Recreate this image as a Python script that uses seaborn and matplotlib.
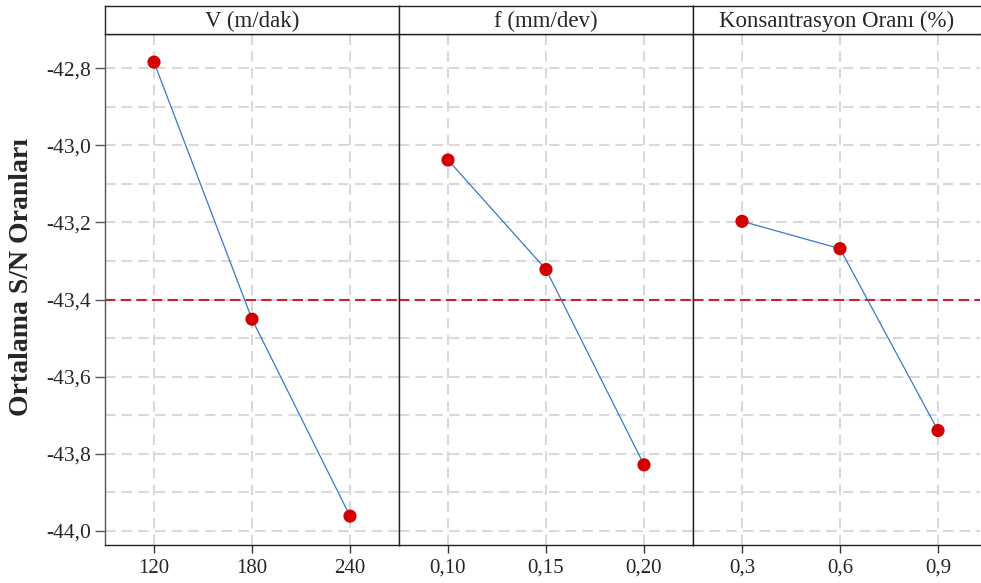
import matplotlib
matplotlib.use("Agg")
import matplotlib.pyplot as plt
import seaborn as sns
import pandas as pd
from matplotlib.ticker import FuncFormatter, FixedLocator

# Main effects of factor levels on mean S/N ratio
factors = ["V (m/dak)", "f (mm/dev)", "Konsantrasyon Oranı (%)"]
v_levels = ["120", "180", "240"]
f_levels = ["0,10", "0,15", "0,20"]
k_levels = ["0,3", "0,6", "0,9"]
v_sn = [-42.784, -43.451, -43.962]
f_sn = [-43.038, -43.322, -43.829]
k_sn = [-43.197, -43.268, -43.740]
grand_mean = -43.40
y_major = [-44.0, -43.8, -43.6, -43.4, -43.2, -43.0, -42.8]
y_minor = [-43.9, -43.7, -43.5, -43.3, -43.1, -42.9]

panels = [
    (factors[0], v_levels, v_sn),
    (factors[1], f_levels, f_sn),
    (factors[2], k_levels, k_sn),
]

sns.set_style("white")
plt.rcParams["font.family"] = ["Liberation Serif", "DejaVu Serif"]

W, H = 981, 583
fig = plt.figure(figsize=(W / 100, H / 100), dpi=100)

left_px = 105
panel_px = 294
top_px, bottom_px, strip_top_px = 34, 545, 6
ylim = (-44.037, -42.711)

line_color = "#3a78c9"
dot_color = "#d40000"
mean_color = "#cf1f2e"
grid_color = "#d9d9d9"

axes = []
for i, (name, levels, values) in enumerate(panels):
    x0 = left_px + i * panel_px
    x1 = min(x0 + panel_px, W - 1)
    ax = fig.add_axes([x0 / W, 1 - bottom_px / H, (x1 - x0) / W,
                       (bottom_px - top_px) / H])
    axes.append(ax)
    df = pd.DataFrame({"pos": list(range(len(levels))), "sn": values})

    ax.axhline(grand_mean, color=mean_color, lw=1.5, ls=(0, (5, 2.5)), zorder=2)
    sns.lineplot(data=df, x="pos", y="sn", ax=ax, color=line_color, lw=0.9,
                 zorder=3)
    sns.scatterplot(data=df, x="pos", y="sn", ax=ax, color=dot_color, s=90,
                    edgecolor="none", zorder=4)

    xr = -0.5 + (x1 - x0) / panel_px * 3.0
    ax.set_xlim(-0.5, xr)
    ax.set_ylim(*ylim)
    ax.set_xticks(range(len(levels)))
    ax.set_xticklabels(levels)
    ax.yaxis.set_major_locator(FixedLocator(y_major))
    ax.yaxis.set_minor_locator(FixedLocator(y_minor))
    ax.yaxis.set_major_formatter(
        FuncFormatter(lambda v, p: f"{v:.1f}".replace(".", ",")))
    ax.grid(True, which="both", axis="y", color=grid_color, lw=1.5,
            ls=(0, (5, 3)))
    ax.grid(True, which="major", axis="x", color=grid_color, lw=1.5,
            ls=(0, (5, 3)))
    ax.set_axisbelow(True)
    ax.set_xlabel("")
    ax.set_ylabel("")
    ax.tick_params(axis="x", which="major", direction="out", length=6,
                   width=1, color="#333333", labelsize=15, pad=4, bottom=True)
    ax.tick_params(axis="y", which="major", direction="out", length=7,
                   width=1, color="#555555", labelsize=15.5, pad=3,
                   left=(i == 0), labelleft=(i == 0))
    ax.tick_params(axis="y", which="minor", length=0)
    for sp in ax.spines.values():
        sp.set_color("#222222")
        sp.set_linewidth(1.0)
    if i == 0:
        ax.spines["left"].set_color("#555555")
    if i == 2:
        ax.spines["right"].set_visible(False)

    # facet header strip
    sax = fig.add_axes([x0 / W, 1 - top_px / H, (x1 - x0) / W,
                        (top_px - strip_top_px) / H])
    sax.set_xticks([])
    sax.set_yticks([])
    sax.set_facecolor("white")
    for sp in sax.spines.values():
        sp.set_color("#222222")
        sp.set_linewidth(1.0)
    if i == 2:
        sax.spines["right"].set_visible(False)
    sax.text(0.5, 0.45, name, ha="center", va="center", fontsize=16.5,
             transform=sax.transAxes)

fig.text(22 / W, 1 - 277 / H, "Ortalama S/N Oranları", rotation=90,
         ha="center", va="center", fontsize=20, fontweight="bold")

fig.savefig("out.png", dpi=100, facecolor="white")
